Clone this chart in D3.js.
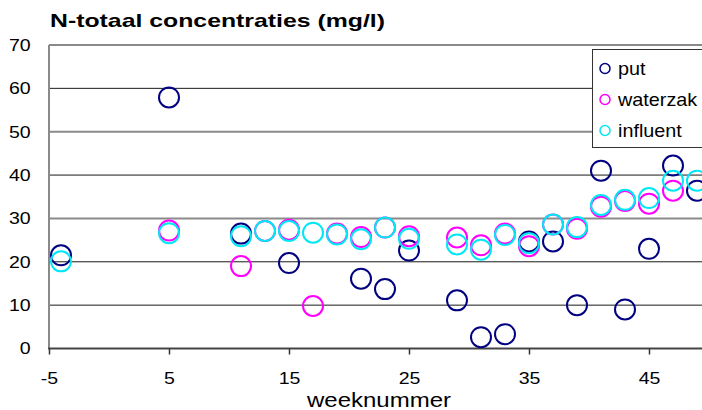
<!DOCTYPE html>
<html>
<head>
<meta charset="utf-8">
<script src="https://cdn.jsdelivr.net/npm/d3@7"></script>
<style>
  body { margin: 0; background: #fff; }
  svg { display: block; font-family: "Liberation Sans", Arial, sans-serif; }
</style>
</head>
<body>
<svg id="chart" width="702" height="410"></svg>
<script>
// weeknummers en N-totaal (mg/l)
let weeks    = [-4,   5,    11,   13,   15,   17,   19,   21,   23,   25,   29,   31,   33,   35,   37,   39,   41,   43,   45,   47,   49];
let put      = [21.5, 57.9, 26.5, null, 19.7, null, null, 16.1, 13.7, 22.6, 11.1, 2.6,  3.3,  24.7, 24.7, 10.0, 41.0, 9.0,  23.0, 42.2, 36.4];
let waterzak = [null, 27.2, 19.0, 27.1, 27.4, 9.8,  26.5, 25.7, 27.9, 25.9, 25.6, 23.8, 26.5, 23.6, 28.6, 27.6, 32.7, 34.0, 33.4, 36.4, null];
let influent = [20.1, 26.6, 25.9, 27.1, 27.1, 26.7, 26.3, 25.2, 27.9, 25.3, 24.0, 22.8, 26.2, 24.3, 28.6, 28.0, 33.1, 34.3, 34.7, 38.7, 38.7];

let xTicks = [-5, 5, 15, 25, 35, 45];
let yTicks = [0, 10, 20, 30, 40, 50, 60, 70];

let series = [
    {name: 'put', values: put, color: '#000080'},
    {name: 'waterzak', values: waterzak, color: '#ff00ff'},
    {name: 'influent', values: influent, color: '#00e8f4'}
];

let svg = d3.select('#chart');
let plotLeft = 49, plotRight = 702, plotTop = 45, plotBottom = 348.5;

let x = d3.scaleLinear().domain([-5, 45]).range([plotLeft, plotLeft + 600]);
let y = d3.scaleLinear().domain([0, 70]).range([plotBottom, plotTop]);

// rasterlijnen
svg.append('g')
    .selectAll('line')
    .data(yTicks.filter(d => d > 0))
    .join('line')
    .attr('x1', plotLeft).attr('x2', plotRight)
    .attr('y1', d => y(d)).attr('y2', d => y(d))
    .attr('stroke', d => (d == 30 || d == 50 || d == 70) ? '#8a8a8a' : '#1a1a1a')
    .attr('stroke-width', d => (d == 30 || d == 50 || d == 70) ? 2 : 1);

// y-as
let yAxis = svg.append('g')
    .attr('transform', `translate(${plotLeft},0)`)
    .call(d3.axisLeft(y).tickValues(yTicks).tickSize(0).tickPadding(16));
yAxis.select('.domain').remove();
yAxis.selectAll('text')
    .attr('font-size', 17)
    .attr('font-family', '"Liberation Sans", Arial, sans-serif')
    .attr('fill', '#000')
    .attr('transform', 'scale(1.15,1)');
svg.append('line')
    .attr('x1', plotLeft).attr('x2', plotLeft)
    .attr('y1', plotTop).attr('y2', plotBottom)
    .attr('stroke', '#8a8a8a').attr('stroke-width', 2);

// x-as (gewoon koppelteken voor -5, zoals Excel)
let xAxis = svg.append('g')
    .attr('transform', `translate(0,${plotBottom})`)
    .call(d3.axisBottom(x).tickValues(xTicks).tickSize(6).tickPadding(17).tickFormat(d => String(d)));
xAxis.select('.domain').remove();
xAxis.selectAll('.tick line').attr('stroke', '#333').attr('stroke-width', 1.5);
xAxis.selectAll('text')
    .attr('font-size', 17)
    .attr('font-family', '"Liberation Sans", Arial, sans-serif')
    .attr('fill', '#000')
    .attr('transform', 'scale(1.15,1)');
svg.append('line')
    .attr('x1', plotLeft - 1).attr('x2', plotRight)
    .attr('y1', plotBottom).attr('y2', plotBottom)
    .attr('stroke', '#444').attr('stroke-width', 2);

// punten
series.forEach(function(s) {
    svg.append('g')
        .selectAll('circle')
        .data(weeks.map((w, i) => ({w: w, v: s.values[i]})).filter(d => d.v != null))
        .join('circle')
        .attr('cx', d => x(d.w))
        .attr('cy', d => y(d.v))
        .attr('r', 10)
        .attr('fill', 'none')
        .attr('stroke', s.color)
        .attr('stroke-width', 2);
});

// titel
svg.append('text')
    .attr('x', 50).attr('y', 27)
    .attr('font-size', 19).attr('font-weight', 'bold')
    .attr('textLength', 335).attr('lengthAdjust', 'spacingAndGlyphs')
    .text('N-totaal concentraties (mg/l)');

// as-titel
svg.append('text')
    .attr('x', 307).attr('y', 407)
    .attr('font-size', 21)
    .attr('textLength', 144).attr('lengthAdjust', 'spacingAndGlyphs')
    .text('weeknummer');

// legenda
let legend = svg.append('g');
legend.append('rect')
    .attr('x', 592.5).attr('y', 49.5)
    .attr('width', 120).attr('height', 98)
    .attr('fill', '#fff').attr('stroke', '#333').attr('stroke-width', 1);
let item = legend.selectAll('g.item')
    .data(series)
    .join('g')
    .attr('class', 'item')
    .attr('transform', (d, i) => `translate(0,${68.5 + i * 31})`);
item.append('circle')
    .attr('cx', 605).attr('cy', 0).attr('r', 5)
    .attr('fill', 'none')
    .attr('stroke', d => d.color)
    .attr('stroke-width', 1.5);
item.append('text')
    .attr('transform', 'translate(618,6) scale(1.1,1)')
    .attr('font-size', 18)
    .text(d => d.name);
</script>
</body>
</html>
